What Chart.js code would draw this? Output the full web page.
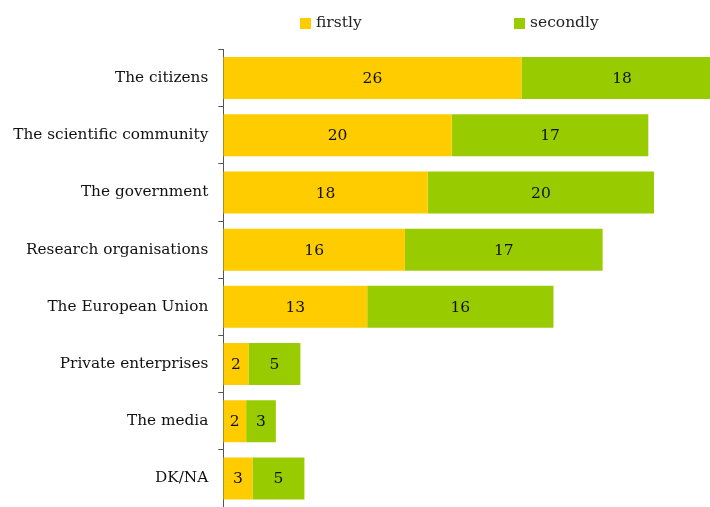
<!DOCTYPE html>
<html>
<head>
<meta charset="utf-8">
<script src="https://cdn.jsdelivr.net/npm/chart.js@4.4.1/dist/chart.umd.min.js"></script>
<style>
  html, body { margin: 0; padding: 0; background: #fff; }
  #wrap { width: 710px; height: 507px; }
</style>
</head>
<body>
<div id="wrap"><canvas id="myChart" width="710" height="507"></canvas></div>
<script>
const categories = [
    'The citizens',
    'The scientific community',
    'The government',
    'Research organisations',
    'The European Union',
    'Private enterprises',
    'The media',
    'DK/NA'
];
const firstly = [26.1, 20.0, 17.9, 15.9, 12.6, 2.2, 2.0, 2.55];
const secondly = [17.6, 17.2, 19.8, 17.3, 16.3, 4.55, 2.6, 4.55];
const seriesNames = ['firstly', 'secondly'];
const seriesColors = ['#FFCC00', '#99CC00'];

const serif = "'DejaVu Serif', 'Liberation Serif', serif";

// value labels in the middle of each bar segment
const barLabels = {
    id: 'barLabels',
    afterDatasetsDraw(chart) {
        const ctx = chart.ctx;
        ctx.save();
        ctx.font = '15.5px ' + serif;
        ctx.fillStyle = '#111';
        ctx.textAlign = 'center';
        ctx.textBaseline = 'middle';
        chart.data.datasets.forEach((ds, i) => {
            chart.getDatasetMeta(i).data.forEach((bar, j) => {
                const cx = (bar.x + bar.base) / 2;
                ctx.fillText(Math.round(ds.data[j]), cx, bar.y + 1);
            });
        });
        ctx.restore();
    }
};

// legend drawn by hand, the built-in one can't be spaced like this
const topLegend = {
    id: 'topLegend',
    afterDraw(chart) {
        const ctx = chart.ctx;
        const starts = [300, 514];
        ctx.save();
        ctx.font = '15.5px ' + serif;
        ctx.textBaseline = 'middle';
        ctx.textAlign = 'left';
        chart.data.datasets.forEach((ds, i) => {
            ctx.fillStyle = ds.backgroundColor;
            ctx.fillRect(starts[i], 18, 11, 11);
            ctx.fillStyle = '#222';
            ctx.fillText(ds.label, starts[i] + 16, 23);
        });
        ctx.restore();
    }
};

const ctx = document.getElementById('myChart').getContext('2d');
const myChart = new Chart(ctx, {
    type: 'bar',
    data: {
        labels: categories,
        datasets: [{
            label: seriesNames[0],
            data: firstly,
            backgroundColor: seriesColors[0],
            categoryPercentage: 1,
            barPercentage: 0.735
        }, {
            label: seriesNames[1],
            data: secondly,
            backgroundColor: seriesColors[1],
            categoryPercentage: 1,
            barPercentage: 0.735
        }]
    },
    options: {
        indexAxis: 'y',
        responsive: false,
        animation: false,
        layout: {
            padding: { top: 49.5, bottom: 0, left: 0, right: 0 }
        },
        plugins: {
            legend: { display: false },
            tooltip: { enabled: false }
        },
        scales: {
            x: {
                stacked: true,
                display: false,
                min: 0,
                max: 42.6
            },
            y: {
                stacked: true,
                afterFit(scale) {
                    scale.width = 223.3;
                    scale.paddingTop = 0;
                    scale.paddingBottom = 0;
                },
                grid: {
                    offset: true,
                    drawOnChartArea: false,
                    drawTicks: true,
                    tickLength: 5,
                    color: '#555'
                },
                border: {
                    display: true,
                    color: '#555',
                    width: 1
                },
                ticks: {
                    padding: 10,
                    color: '#111',
                    font: { family: serif, size: 15.3 }
                }
            }
        }
    },
    plugins: [barLabels, topLegend]
});
</script>
</body>
</html>
